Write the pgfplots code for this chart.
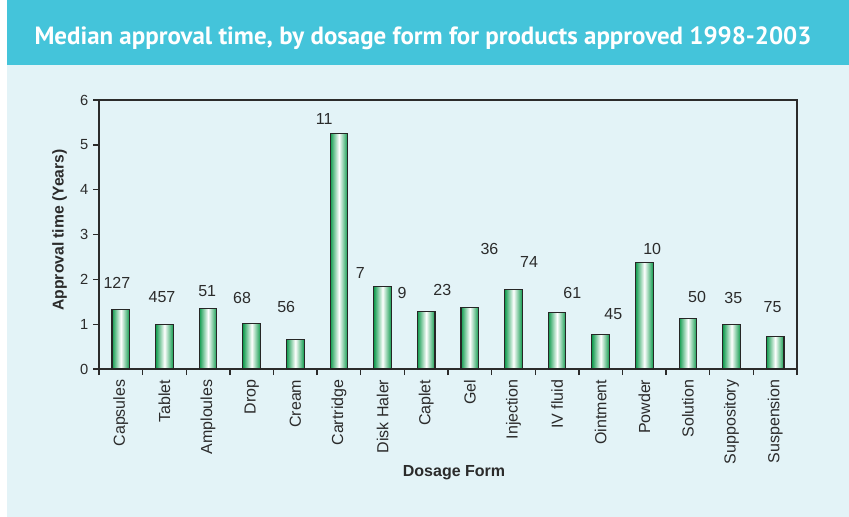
\documentclass[border=0pt]{standalone}
\usepackage{pgfplots}
\pgfplotsset{compat=1.18}
\usepackage{fontspec}
\setmainfont{Liberation Sans}
\newfontfamily\titlefont{PT Sans}
\definecolor{titlebg}{HTML}{44C4DA}
\definecolor{bgblue}{HTML}{E3F3F7}
\definecolor{bargreen}{HTML}{0E9A4C}
\definecolor{txt}{HTML}{2B2B2B}
\pgfplotsset{gbar/.style={ybar, bar width=13.25pt, bar shift=0pt, draw=black!85, line width=0.8pt,
  left color=bargreen, right color=bargreen, middle color=white}}
\begin{document}
\begin{tikzpicture}
\fill[white] (-74.25pt,-111pt) rectangle (562.5pt,276.75pt);
\fill[bgblue] (-69pt,-111pt) rectangle (562.5pt,228pt);
\fill[titlebg] (-69pt,228pt) rectangle (562.5pt,276.75pt);
\node[anchor=base, text=white, font=\titlefont\bfseries\fontsize{18.7}{22}\selectfont] at (243pt,243pt) {Median approval time, by dosage form for products approved 1998-2003};
\begin{axis}[
  at={(0,0)}, anchor=south west,
  width=523.5pt, height=201.75pt, scale only axis,
  xmin=-0.5, xmax=15.5, ymin=0, ymax=6,
  ytick={0,1,2,3,4,5,6},
  xtick={-0.5,0.5,...,15.5},
  x tick label as interval,
  xticklabels={Capsules,Tablet,Amploules,Drop,Cream,Cartridge,Disk Haler,Caplet,Gel,Injection,IV fluid,Ointment,Powder,Solution,Suppository,Suspension},
  x tick label style={rotate=90, anchor=east, font=\fontsize{12}{14}\selectfont, text=txt},
  y tick label style={font=\fontsize{11}{13}\selectfont, text=txt},
  /pgf/number format/assume math mode=true,
  tick align=outside, tick pos=left,
  major tick length=4.5pt,
  tick style={line width=1pt, draw=txt},
  axis line style={line width=1.2pt, draw=txt},
  xlabel={Dosage Form},
  ylabel={Approval time (Years)},
  xlabel style={at={(axis description cs:0.5086,-0.387)}, anchor=center, font=\bfseries\fontsize{12}{14}\selectfont, text=txt},
  ylabel style={at={(axis description cs:-0.0566,0.517)}, anchor=center, font=\bfseries\fontsize{11.75}{14}\selectfont, text=txt},
]
\addplot[gbar] coordinates {(0,1.32)};
\addplot[gbar] coordinates {(1,1.00)};
\addplot[gbar] coordinates {(2,1.35)};
\addplot[gbar] coordinates {(3,1.02)};
\addplot[gbar] coordinates {(4,0.65)};
\addplot[gbar] coordinates {(5,5.26)};
\addplot[gbar] coordinates {(6,1.84)};
\addplot[gbar] coordinates {(7,1.29)};
\addplot[gbar] coordinates {(8,1.38)};
\addplot[gbar] coordinates {(9,1.78)};
\addplot[gbar] coordinates {(10,1.26)};
\addplot[gbar] coordinates {(11,0.76)};
\addplot[gbar] coordinates {(12,2.38)};
\addplot[gbar] coordinates {(13,1.12)};
\addplot[gbar] coordinates {(14,1.00)};
\addplot[gbar] coordinates {(15,0.72)};
\addplot[draw=none, mark=none, point meta=explicit symbolic,
  nodes near coords, nodes near coords align={center},
  every node near coord/.append style={font=\fontsize{12}{14}\selectfont, text=txt, anchor=center}]
  coordinates {(-0.09,1.92) [127] (0.945,1.61) [457] (1.98,1.74) [51] (2.78,1.58) [68]
               (3.79,1.38) [56] (4.66,5.58) [11] (5.49,2.14) [7] (6.45,1.70) [9]
               (7.37,1.76) [23] (8.45,2.68) [36] (9.36,2.39) [74] (10.35,1.70) [61]
               (11.29,1.23) [45] (12.18,2.68) [10] (13.21,1.61) [50] (14.04,1.58) [35]
               (14.94,1.38) [75]};
\end{axis}
\end{tikzpicture}
\end{document}
